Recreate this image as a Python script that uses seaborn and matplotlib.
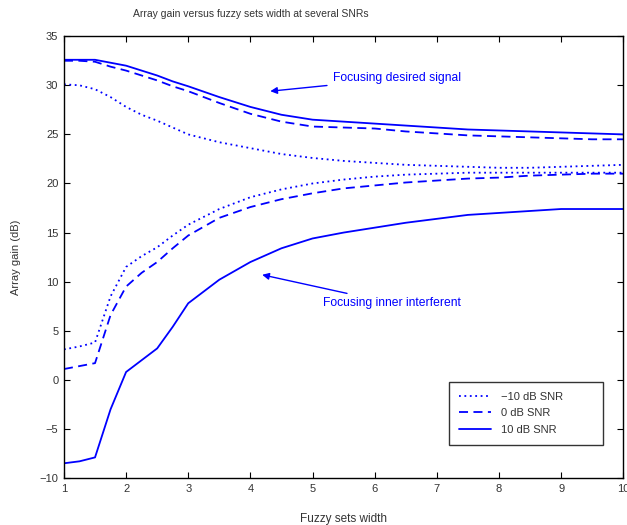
import matplotlib
matplotlib.use("Agg")
import matplotlib.pyplot as plt
import seaborn as sns
import pandas as pd

# Fuzzy set widths at which the array gain was evaluated
width = [1, 1.25, 1.5, 1.75, 2, 2.25, 2.5, 2.75, 3, 3.5, 4, 4.5, 5, 5.5,
         6, 6.5, 7, 7.5, 8, 8.5, 9, 9.5, 10]

# Array gain (dB) when focusing on the desired signal
desired_m10 = [30.1, 30.0, 29.6, 28.8, 27.8, 27.0, 26.4, 25.7, 25.0, 24.2, 23.6, 23.0,
               22.6, 22.3, 22.1, 21.9, 21.8, 21.7, 21.6, 21.6, 21.7, 21.8, 21.9]
desired_0 = [32.5, 32.5, 32.4, 31.9, 31.5, 31.0, 30.5, 29.9, 29.4, 28.2, 27.1, 26.3,
             25.8, 25.7, 25.6, 25.3, 25.1, 24.9, 24.8, 24.7, 24.6, 24.5, 24.5]
desired_10 = [32.6, 32.6, 32.6, 32.3, 32.0, 31.5, 31.0, 30.4, 29.9, 28.8, 27.8, 27.0,
              26.5, 26.3, 26.1, 25.9, 25.7, 25.5, 25.4, 25.3, 25.2, 25.1, 25.0]

# Array gain (dB) when focusing on the inner interferent
inner_m10 = [3.1, 3.4, 3.8, 8.5, 11.5, 12.6, 13.5, 14.7, 15.8, 17.4, 18.6, 19.4,
             20.0, 20.4, 20.7, 20.9, 21.0, 21.1, 21.1, 21.1, 21.1, 21.1, 21.1]
inner_0 = [1.1, 1.4, 1.7, 6.6, 9.5, 10.9, 12.0, 13.4, 14.7, 16.5, 17.6, 18.4,
           19.0, 19.5, 19.8, 20.1, 20.3, 20.5, 20.6, 20.8, 20.9, 21.0, 21.0]
inner_10 = [-8.5, -8.3, -7.9, -3.0, 0.8, 2.0, 3.2, 5.4, 7.8, 10.2, 12.0, 13.4,
            14.4, 15.0, 15.5, 16.0, 16.4, 16.8, 17.0, 17.2, 17.4, 17.4, 17.4]

snr_labels = ["\u221210 dB SNR", "0 dB SNR", "10 dB SNR"]
x_ticks = [1, 2, 3, 4, 5, 6, 7, 8, 9, 10]
y_ticks = [-10, -5, 0, 5, 10, 15, 20, 25, 30, 35]

sns.set_style("white")
plt.rcParams["font.family"] = ["Liberation Sans", "DejaVu Sans"]

fig = plt.figure(figsize=(6.27, 5.25), dpi=100)
ax = fig.add_axes([0.102, 0.0895, 0.892, 0.8415])

blue = "#0000ff"
styles = [(0, (1, 2)), (0, (5, 3)), "-"]
lw = 1.3

for series, ls, lab in zip([desired_m10, desired_0, desired_10], styles, snr_labels):
    df = pd.DataFrame({"w": width, "g": series})
    sns.lineplot(data=df, x="w", y="g", ax=ax, color=blue, linestyle=ls,
                 linewidth=lw, label=lab)
for series, ls in zip([inner_m10, inner_0, inner_10], styles):
    df = pd.DataFrame({"w": width, "g": series})
    sns.lineplot(data=df, x="w", y="g", ax=ax, color=blue, linestyle=ls,
                 linewidth=lw, legend=False)

ax.set_xlim(1, 10)
ax.set_ylim(-10, 35)
ax.set_xticks(x_ticks)
ax.set_yticks(y_ticks)
ax.set_xticklabels([str(v) for v in x_ticks])
ax.set_yticklabels([("\u2212" + str(-v)) if v < 0 else str(v) for v in y_ticks])

txt = "#333333"
ax.tick_params(direction="in", length=4, width=0.8, colors="black",
               labelcolor=txt, labelsize=8, top=True, right=True,
               bottom=True, left=True, pad=4)
for s in ax.spines.values():
    s.set_color("black")
    s.set_linewidth(1.0)

ax.set_xlabel("Fuzzy sets width", fontsize=8.5, color=txt, labelpad=14)
ax.set_ylabel("Array gain (dB)", fontsize=8, color=txt, labelpad=13)
fig.text(251 / 627, 1 - 14 / 525, "Array gain versus fuzzy sets width at several SNRs",
         ha="center", va="center", fontsize=7.5, color=txt)

ax.annotate("Focusing desired signal", xy=(4.32, 29.4), xytext=(5.33, 30.7),
            fontsize=8.7, color=blue, va="center",
            arrowprops=dict(arrowstyle="-|>", color=blue, lw=1.0,
                            shrinkA=2, shrinkB=0, mutation_scale=10))
ax.annotate("Focusing inner interferent", xy=(4.19, 10.7), xytext=(5.17, 7.8),
            fontsize=8.7, color=blue, va="center",
            arrowprops=dict(arrowstyle="-|>", color=blue, lw=1.0,
                            shrinkA=2, shrinkB=0, mutation_scale=10))

leg = ax.legend(loc="lower left", bbox_to_anchor=(0.6887, 0.0747, 0.2755, 0.154),
                mode="expand", borderaxespad=0,
                fontsize=8, frameon=True, fancybox=False, edgecolor="black",
                handlelength=2.9, handletextpad=0.9, borderpad=0.9,
                labelspacing=0.6)
leg.get_frame().set_linewidth(1.0)
for t in leg.get_texts():
    t.set_color(txt)

fig.savefig("out.png", dpi=100)
